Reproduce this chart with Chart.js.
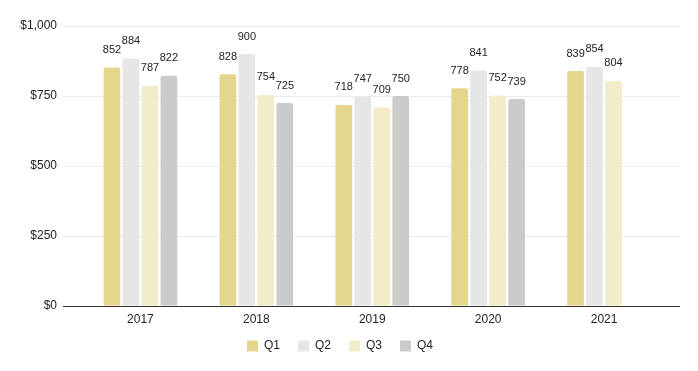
<!DOCTYPE html>
<html>
<head>
<meta charset="utf-8">
<script src="https://cdn.jsdelivr.net/npm/chart.js@4"></script>
<style>
  html, body { margin: 0; padding: 0; background: #fff; }
  #wrap { width: 698px; height: 371px; }
</style>
</head>
<body>
<div id="wrap"><canvas id="chart" width="698" height="371"></canvas></div>
<script>
// Quarterly values per year
const years = ['2017', '2018', '2019', '2020', '2021'];
const q1 = [852, 828, 718, 778, 839];
const q2 = [884, 900, 747, 841, 854];
const q3 = [787, 754, 709, 752, 804];
const q4 = [822, 725, 750, 739, null];
const seriesNames = ['Q1', 'Q2', 'Q3', 'Q4'];
const seriesColors = ['#e5d68d', '#e6e6e6', '#f3ecc9', '#cbcbcb'];
const yTicks = [0, 250, 500, 750, 1000];

const FONT = '"Liberation Sans", Arial, sans-serif';

// value labels drawn over each bar
const valueLabels = {
    id: 'valueLabels',
    afterDatasetsDraw(chart) {
        const ctx = chart.ctx;
        ctx.save();
        ctx.font = '11px ' + FONT;
        ctx.fillStyle = '#222222';
        ctx.textAlign = 'center';
        ctx.textBaseline = 'middle';
        chart.data.datasets.forEach((ds, i) => {
            const meta = chart.getDatasetMeta(i);
            meta.data.forEach((bar, j) => {
                const v = ds.data[j];
                if (v === null || v === undefined) return;
                ctx.fillText(String(v), bar.x, bar.y - 17.5);
            });
        });
        ctx.restore();
    }
};

// pull the category axis in from the plot edges (gridlines keep full width),
// and nudge the legend up a little
const insetX = {
    id: 'insetX',
    afterLayout(chart) {
        const x = chart.scales.x;
        x.left = chart.chartArea.left + 19.5;
        x.right = chart.chartArea.right - 18;
        x.width = x.right - x.left;
        x.configure();
        chart.legend.top -= 6;
        chart.legend.bottom -= 6;
    }
};

const ctx = document.getElementById('chart').getContext('2d');
const chart = new Chart(ctx, {
    type: 'bar',
    data: {
        labels: years,
        datasets: [q1, q2, q3, q4].map((d, i) => ({
            label: seriesNames[i],
            data: d,
            backgroundColor: seriesColors[i],
            borderWidth: 0,
            borderRadius: { topLeft: 2, topRight: 2 },
            borderSkipped: 'bottom',
            barPercentage: 0.88,
            categoryPercentage: 0.655
        }))
    },
    options: {
        responsive: false,
        animation: false,
        layout: { padding: { left: 0, right: 18, top: 26, bottom: 3 } },
        plugins: {
            tooltip: { enabled: false },
            legend: {
                position: 'bottom',
                labels: {
                    boxWidth: 11,
                    boxHeight: 11,
                    padding: 18,
                    color: '#222222',
                    font: { family: FONT, size: 12 }
                }
            }
        },
        scales: {
            x: {
                grid: { display: false, drawTicks: false },
                border: { display: false },
                ticks: { color: '#222222', padding: 6, font: { family: FONT, size: 12 } },
                afterFit(scale) { scale.height = 22; }
            },
            y: {
                min: 0,
                max: 1000,
                afterBuildTicks(scale) { scale.ticks = yTicks.map(v => ({ value: v })); },
                border: { display: false },
                grid: {
                    drawTicks: false,
                    color: c => (c.tick && c.tick.value === 0) ? '#333333' : '#ebebeb'
                },
                ticks: {
                    color: '#222222',
                    padding: 6,
                    font: { family: FONT, size: 12 },
                    callback: v => '$' + v.toLocaleString('en-US')
                },
                afterFit(scale) { scale.width = 63; }
            }
        }
    },
    plugins: [valueLabels, insetX]
});
</script>
</body>
</html>
